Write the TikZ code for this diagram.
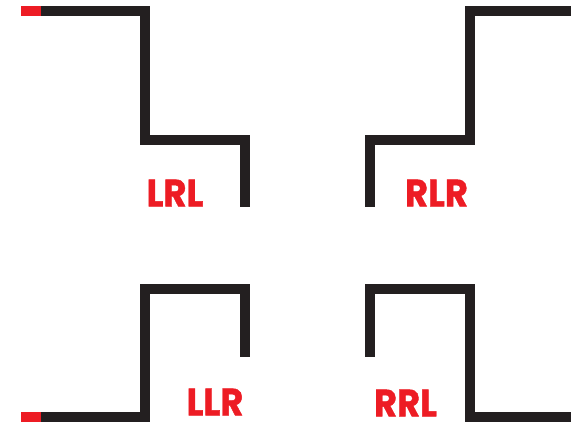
\documentclass[tikz,border=0pt]{standalone}
\usepackage{graphicx}
\usepackage{fontspec}
\newfontfamily\labelfont{Poppins}[BoldFeatures={FakeBold=1.2}]
\usetikzlibrary{positioning}

\definecolor{pathred}{HTML}{ED1C24}
\definecolor{pathblack}{HTML}{231F20}

\newcommand{\turnword}[1]{\scalebox{0.93}[1]{\labelfont\bfseries #1}}

\begin{document}
\begin{tikzpicture}[
  x=1pt, y=-1pt,
  track/.style={line width=10pt, pathblack, miter limit=10},
  start/.style={line width=10pt, pathred},
  turnlabel/.style={font=\fontsize{38}{40}\selectfont, text=pathred, inner sep=0pt, anchor=center}
]
\useasboundingbox (0,0) rectangle (571,422);
% LRL, top left
\draw[start] (21,11) -- (41,11);
\draw[track] (41,11) -- (145,11) -- (145,140) -- (245,140) -- (245,207);
\node[turnlabel] (lrl) at (175,193) {\turnword{LRL}};
% RLR, top right
\draw[track] (370,207) -- (370,140) -- (470,140) -- (470,11) -- (571,11);
\node[turnlabel] (rlr) at (436.5,193) {\turnword{RLR}};
% LLR, bottom left
\draw[start] (21,417) -- (41,417);
\draw[track] (41,417) -- (145,417) -- (145,289) -- (245,289) -- (245,357);
\node[turnlabel] (llr) at (215,402) {\turnword{LLR}};
% RRL, bottom right
\draw[track] (370,357) -- (370,289) -- (470,289) -- (470,417) -- (571,417);
\node[turnlabel] (rrl) at (405.5,403) {\turnword{RRL}};
\end{tikzpicture}
\end{document}
